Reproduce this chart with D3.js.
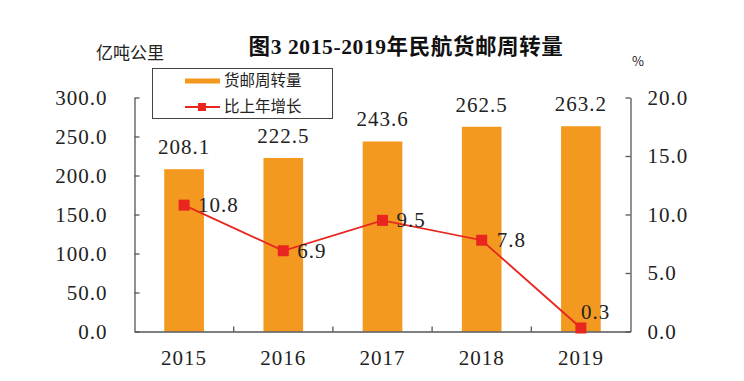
<!DOCTYPE html>
<html><head><meta charset="utf-8">
<script src="https://cdn.jsdelivr.net/npm/d3@7/dist/d3.min.js"></script>
<style>
body{margin:0;background:#fff;}
svg{display:block;}
</style></head>
<body><svg id="c" width="744" height="381"></svg>
<script>
const years = ["2015","2016","2017","2018","2019"];
const volume = [208.1, 222.5, 243.6, 262.5, 263.2];
const growth = [10.8, 6.9, 9.5, 7.8, 0.3];
const leftTicks = [0, 50, 100, 150, 200, 250, 300];
const rightTicks = [0, 5, 10, 15, 20];
const title = "图3 2015-2019年民航货邮周转量";
const leftUnit = "亿吨公里";
const rightUnit = "%";
const seriesNames = ["货邮周转量", "比上年增长"];

const numFont = "'Liberation Serif','DejaVu Serif',serif";
const cjkFont = "'Noto Sans CJK SC','Noto Sans',sans-serif";
const barColor = "#F4991F";
const lineColor = "#E8261F";
const axisColor = "#555";
const textColor = "#222";

const svg = d3.select("#c");
const L = 134.5, R = 630.5, T = 97.5, B = 331.5;

const x = d3.scaleBand().domain(years).range([L, R]).padding(0);
const yL = d3.scaleLinear().domain([0, 300]).range([B, T]);
const yR = d3.scaleLinear().domain([0, 20]).range([B, T]);

// bars
const bw = x.bandwidth() * 0.4;
svg.append("g").selectAll("rect").data(years).join("rect")
  .attr("x", (d) => x(d) + x.bandwidth() / 2 - bw / 2)
  .attr("width", bw)
  .attr("y", (d, i) => yL(volume[i]))
  .attr("height", (d, i) => B - yL(volume[i]))
  .attr("fill", barColor);

// left axis
const gL = svg.append("g").attr("transform", `translate(${L},0)`)
  .call(d3.axisLeft(yL).tickValues(leftTicks).tickFormat(d3.format(".1f"))
    .tickSizeInner(-5).tickSizeOuter(0).tickPadding(27));
// right axis
const gR = svg.append("g").attr("transform", `translate(${R},0)`)
  .call(d3.axisRight(yR).tickValues(rightTicks).tickFormat(d3.format(".1f"))
    .tickSizeInner(-5).tickSizeOuter(0).tickPadding(17));
// bottom axis
const gB = svg.append("g").attr("transform", `translate(0,${B})`)
  .call(d3.axisBottom(x).tickSize(0).tickPadding(18));
[gL, gR, gB].forEach(g => {
  g.selectAll("path.domain").attr("stroke", axisColor).attr("stroke-width", 1.3);
  g.selectAll(".tick line").attr("stroke", axisColor).attr("stroke-width", 1.3);
  g.selectAll("text").attr("font-family", numFont).attr("font-size", 21)
    .attr("letter-spacing", 1).attr("fill", textColor);
});
gB.selectAll("text").attr("dy", "0.75em");
// category boundary ticks (pointing up)
svg.append("g").selectAll("line").data(years.slice(1)).join("line")
  .attr("x1", d => x(d)).attr("x2", d => x(d))
  .attr("y1", B).attr("y2", B - 5)
  .attr("stroke", axisColor).attr("stroke-width", 1.3);

// bar value labels
svg.append("g").selectAll("text").data(years).join("text")
  .attr("x", d => x(d) + x.bandwidth() / 2)
  .attr("y", (d, i) => yL(volume[i]) - 15)
  .attr("text-anchor", "middle")
  .attr("font-family", numFont).attr("font-size", 21).attr("letter-spacing", 1)
  .attr("fill", textColor)
  .text((d, i) => volume[i].toFixed(1));

// line
const cx = d => x(d) + x.bandwidth() / 2;
const line = d3.line().x((d, i) => cx(years[i])).y(d => yR(d));
svg.append("path").datum(growth).attr("d", line)
  .attr("fill", "none").attr("stroke", lineColor).attr("stroke-width", 1.8);
svg.append("g").selectAll("rect").data(years).join("rect")
  .attr("x", d => cx(d) - 5.5).attr("y", (d, i) => yR(growth[i]) - 5.5)
  .attr("width", 11).attr("height", 11).attr("fill", lineColor);
// line labels
const lblOff = [[14, 7], [14, 7], [14, 7], [15, 7], [0, -9]];
svg.append("g").selectAll("text").data(years).join("text")
  .attr("x", (d, i) => cx(d) + lblOff[i][0])
  .attr("y", (d, i) => yR(growth[i]) + lblOff[i][1])
  .attr("font-family", numFont).attr("font-size", 21).attr("letter-spacing", 1)
  .attr("fill", textColor)
  .text((d, i) => growth[i].toFixed(1));

// title
svg.append("text").attr("x", 406).attr("y", 54).attr("text-anchor", "middle")
  .attr("font-family", "'Liberation Serif','Noto Sans CJK SC',serif")
  .attr("font-weight", "bold").attr("font-size", 21.5).attr("letter-spacing", 0.6)
  .attr("fill", "#111")
  .text(title);
// units
svg.append("text").attr("x", 130).attr("y", 59).attr("text-anchor", "middle")
  .attr("font-family", cjkFont).attr("font-size", 17).attr("fill", textColor).text(leftUnit);
svg.append("text").attr("x", 638).attr("y", 66).attr("text-anchor", "middle")
  .attr("font-family", cjkFont).attr("font-size", 13).attr("fill", textColor).text(rightUnit);

// legend
const lg = svg.append("g");
lg.append("rect").attr("x", 152.5).attr("y", 68.5).attr("width", 180).attr("height", 50)
  .attr("fill", "#fff").attr("stroke", "#444").attr("stroke-width", 1);
lg.append("line").attr("x1", 185).attr("x2", 220).attr("y1", 81).attr("y2", 81)
  .attr("stroke", barColor).attr("stroke-width", 5);
lg.append("line").attr("x1", 185).attr("x2", 220).attr("y1", 107).attr("y2", 107)
  .attr("stroke", lineColor).attr("stroke-width", 1.8);
lg.append("rect").attr("x", 198).attr("y", 103).attr("width", 8).attr("height", 8).attr("fill", lineColor);
lg.selectAll("text.lt").data(seriesNames).join("text").attr("class", "lt")
  .attr("x", 224).attr("y", (d, i) => 81 + i * 26).attr("dy", "0.35em")
  .attr("font-family", cjkFont).attr("font-size", 15.5).attr("fill", textColor)
  .text(d => d);
</script></body></html>
